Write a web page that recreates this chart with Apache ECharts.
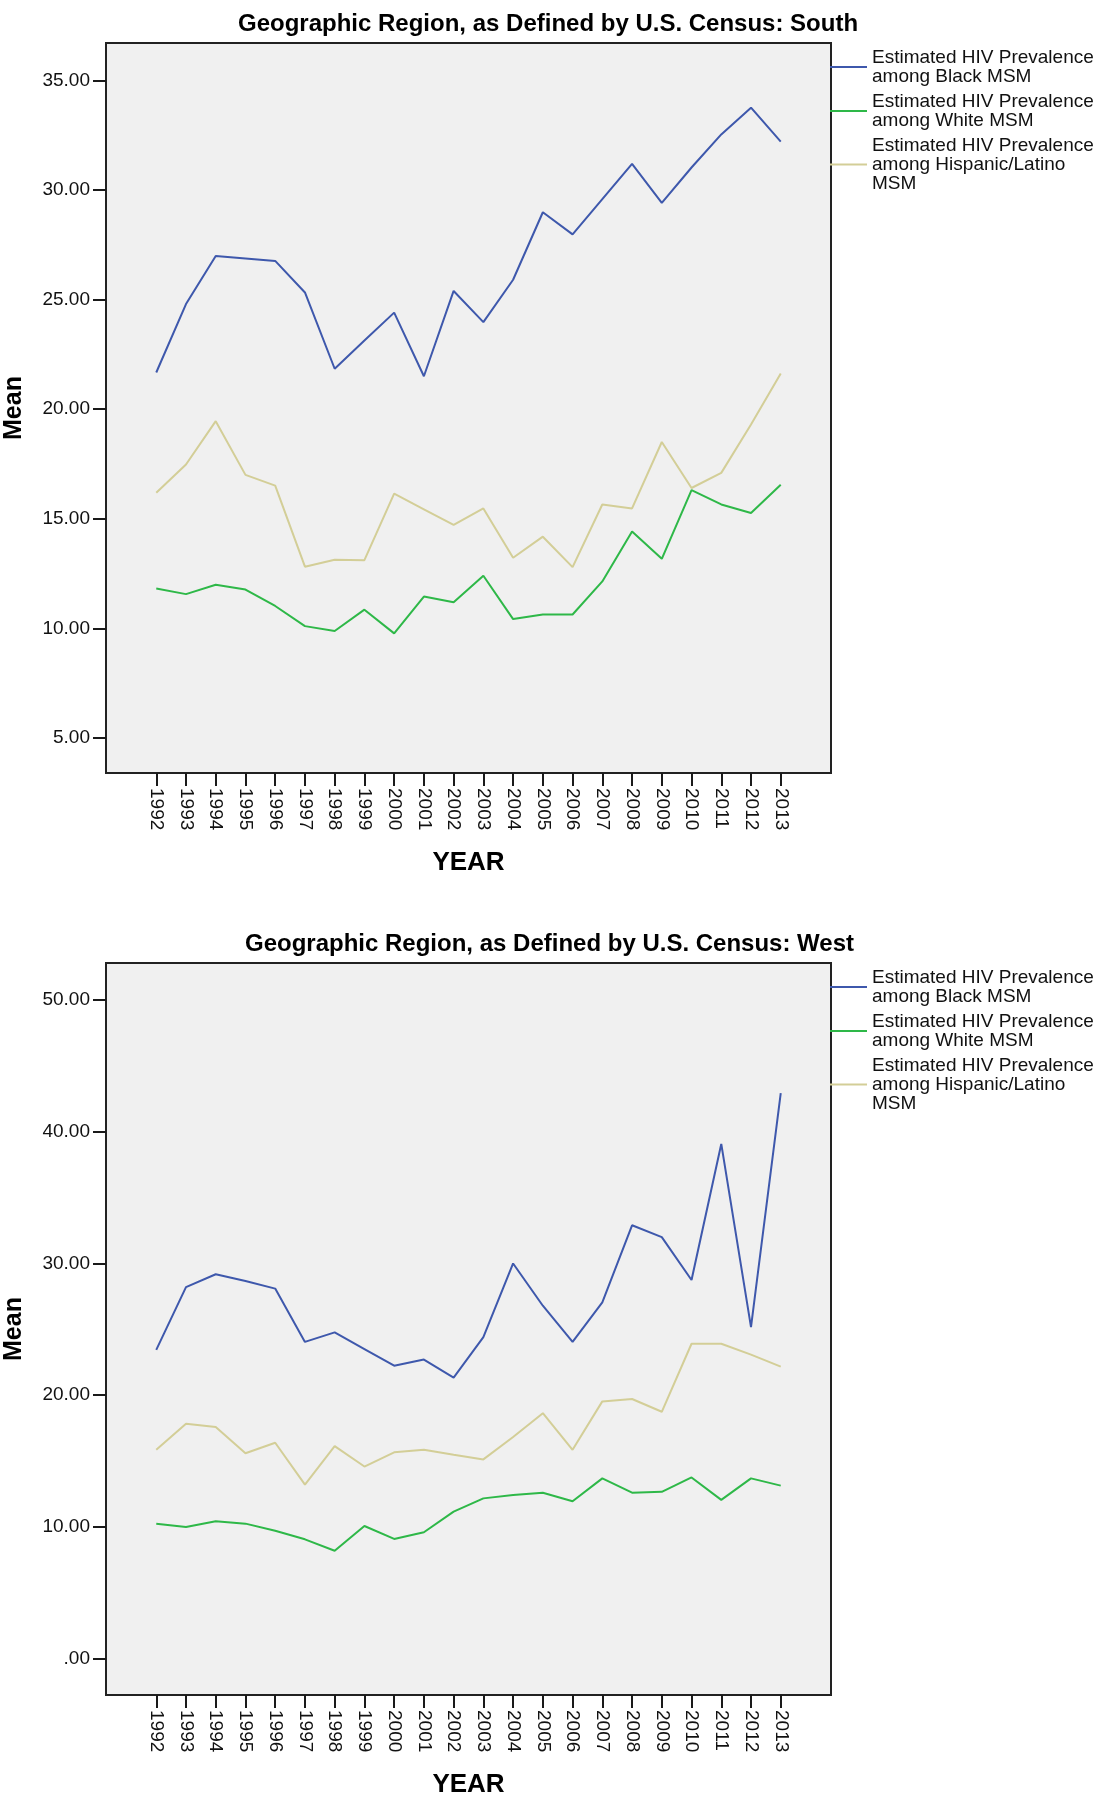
<!DOCTYPE html>
<html>
<head>
<meta charset="utf-8">
<script src="https://cdn.jsdelivr.net/npm/echarts@6/dist/echarts.min.js"></script>
<style>
  html, body { margin: 0; padding: 0; background: #ffffff; }
  #chart { width: 1102px; height: 1800px; }
</style>
</head>
<body>
<div id="chart"></div>
<script>
// ---- Data ----
const years = [1992, 1993, 1994, 1995, 1996, 1997, 1998, 1999, 2000, 2001, 2002,
               2003, 2004, 2005, 2006, 2007, 2008, 2009, 2010, 2011, 2012, 2013];

const seriesNames = [
  'Estimated HIV Prevalence\namong Black MSM',
  'Estimated HIV Prevalence\namong White MSM',
  'Estimated HIV Prevalence\namong Hispanic/Latino\nMSM'
];

const southBlack    = [21.67, 24.79, 26.98, 26.87, 26.76, 25.32, 21.84, 23.13, 24.40, 21.50, 25.39,
                       23.97, 25.90, 28.98, 27.97, 29.58, 31.19, 29.41, 31.02, 32.53, 33.75, 32.20];
const southWhite    = [11.82, 11.56, 11.99, 11.77, 11.02, 10.10, 9.88, 10.85, 9.77, 11.45, 11.19,
                       12.40, 10.42, 10.63, 10.63, 12.14, 14.42, 13.17, 16.30, 15.65, 15.26, 16.55];
const southHispanic = [16.18, 17.47, 19.45, 17.00, 16.51, 12.81, 13.13, 13.11, 16.14, 15.43, 14.72,
                       15.47, 13.22, 14.18, 12.79, 15.65, 15.47, 18.50, 16.40, 17.09, 19.30, 21.62];

const westBlack     = [23.43, 28.20, 29.18, 28.67, 28.09, 24.04, 24.76, 23.50, 22.23, 22.70, 21.33,
                       24.40, 30.00, 26.79, 24.04, 27.04, 32.90, 32.00, 28.74, 39.08, 25.16, 42.95];
const westWhite     = [10.23, 9.98, 10.41, 10.23, 9.69, 9.04, 8.17, 10.05, 9.07, 9.58, 11.14,
                       12.15, 12.40, 12.58, 11.93, 13.67, 12.58, 12.65, 13.74, 12.04, 13.67, 13.12];
const westHispanic  = [15.84, 17.82, 17.57, 15.58, 16.38, 13.20, 16.12, 14.57, 15.65, 15.84, 15.47,
                       15.11, 16.81, 18.62, 15.84, 19.52, 19.70, 18.73, 23.90, 23.90, 23.07, 22.16];

const yTicksSouth = [5, 10, 15, 20, 25, 30, 35];
const yTicksWest  = [0, 10, 20, 30, 40, 50];

const titleSouth = 'Geographic Region, as Defined by U.S. Census: South';
const titleWest  = 'Geographic Region, as Defined by U.S. Census: West';

// ---- Styling ----
const colors = ['#3E58AC', '#2EB848', '#D3CE97'];
const FONT = '"Liberation Sans", Arial, Helvetica, sans-serif';

function pairs(arr) { return years.map((y, i) => [y, arr[i]]); }
function yFmt(v) {
  let s = Number(v).toFixed(2);
  if (s.startsWith('0.')) s = s.slice(1);
  return s;
}

function xAxisDef(gridIndex) {
  return {
    type: 'value', gridIndex: gridIndex,
    min: 1990.31, max: 2014.69,
    name: 'YEAR', nameLocation: 'middle', nameGap: 77,
    nameTextStyle: { fontFamily: FONT, fontWeight: 'bold', fontSize: 26, color: '#000' },
    axisLine: { show: false, onZero: false },
    splitLine: { show: false },
    axisTick: { show: true, customValues: years, length: 13, lineStyle: { color: '#1a1a1a', width: 2 } },
    axisLabel: {
      customValues: years, rotate: -90, margin: 15,
      fontFamily: FONT, fontSize: 19, color: '#111',
      formatter: v => String(Math.round(v))
    }
  };
}

function yAxisDef(gridIndex, min, max, ticks) {
  return {
    type: 'value', gridIndex: gridIndex,
    min: min, max: max,
    name: 'Mean', nameLocation: 'middle', nameGap: 79, nameRotate: 90,
    nameTextStyle: { fontFamily: FONT, fontWeight: 'bold', fontSize: 25, color: '#000' },
    axisLine: { show: false, onZero: false },
    splitLine: { show: false },
    axisTick: { show: true, customValues: ticks, length: 13, lineStyle: { color: '#1a1a1a', width: 2 } },
    axisLabel: {
      customValues: ticks, margin: 16,
      fontFamily: FONT, fontSize: 19, color: '#111',
      formatter: yFmt
    }
  };
}

function lineSeries(name, data, idx, axisIdx) {
  return {
    type: 'line', name: name,
    xAxisIndex: axisIdx, yAxisIndex: axisIdx,
    data: pairs(data),
    symbol: 'none', showSymbol: false,
    lineStyle: { color: colors[idx], width: 2 },
    itemStyle: { color: colors[idx] },
    z: 3 - idx
  };
}

function legendDef(top) {
  return {
    left: 830, top: top, orient: 'vertical', padding: 0,
    itemGap: 6, itemWidth: 37, itemHeight: 2, icon: 'rect',
    data: seriesNames,
    selectedMode: false,
    textStyle: { fontFamily: FONT, fontSize: 19, lineHeight: 19, color: '#111' }
  };
}

const chart = echarts.init(document.getElementById('chart'), null, { renderer: 'canvas' });

chart.setOption({
  animation: false,
  backgroundColor: '#ffffff',
  color: colors,
  title: [
    { text: titleSouth, left: 233, top: 7,
      textStyle: { fontFamily: FONT, fontWeight: 'bold', fontSize: 24, color: '#000' } },
    { text: titleWest, left: 240, top: 927,
      textStyle: { fontFamily: FONT, fontWeight: 'bold', fontSize: 24, color: '#000' } }
  ],
  legend: [legendDef(48), legendDef(968)],
  grid: [
    { left: 106, top: 43, width: 725, height: 730, show: true, outerBoundsMode: 'none', containLabel: false,
      backgroundColor: '#F0F0F0', borderColor: '#222', borderWidth: 2 },
    { left: 106, top: 963, width: 725, height: 732, show: true, outerBoundsMode: 'none', containLabel: false,
      backgroundColor: '#F0F0F0', borderColor: '#222', borderWidth: 2 }
  ],
  xAxis: [xAxisDef(0), xAxisDef(1)],
  yAxis: [yAxisDef(0, 3.40, 36.70, yTicksSouth), yAxisDef(1, -2.79, 52.83, yTicksWest)],
  series: [
    lineSeries(seriesNames[0], southBlack, 0, 0),
    lineSeries(seriesNames[1], southWhite, 1, 0),
    lineSeries(seriesNames[2], southHispanic, 2, 0),
    lineSeries(seriesNames[0], westBlack, 0, 1),
    lineSeries(seriesNames[1], westWhite, 1, 1),
    lineSeries(seriesNames[2], westHispanic, 2, 1)
  ]
});
</script>
</body>
</html>
